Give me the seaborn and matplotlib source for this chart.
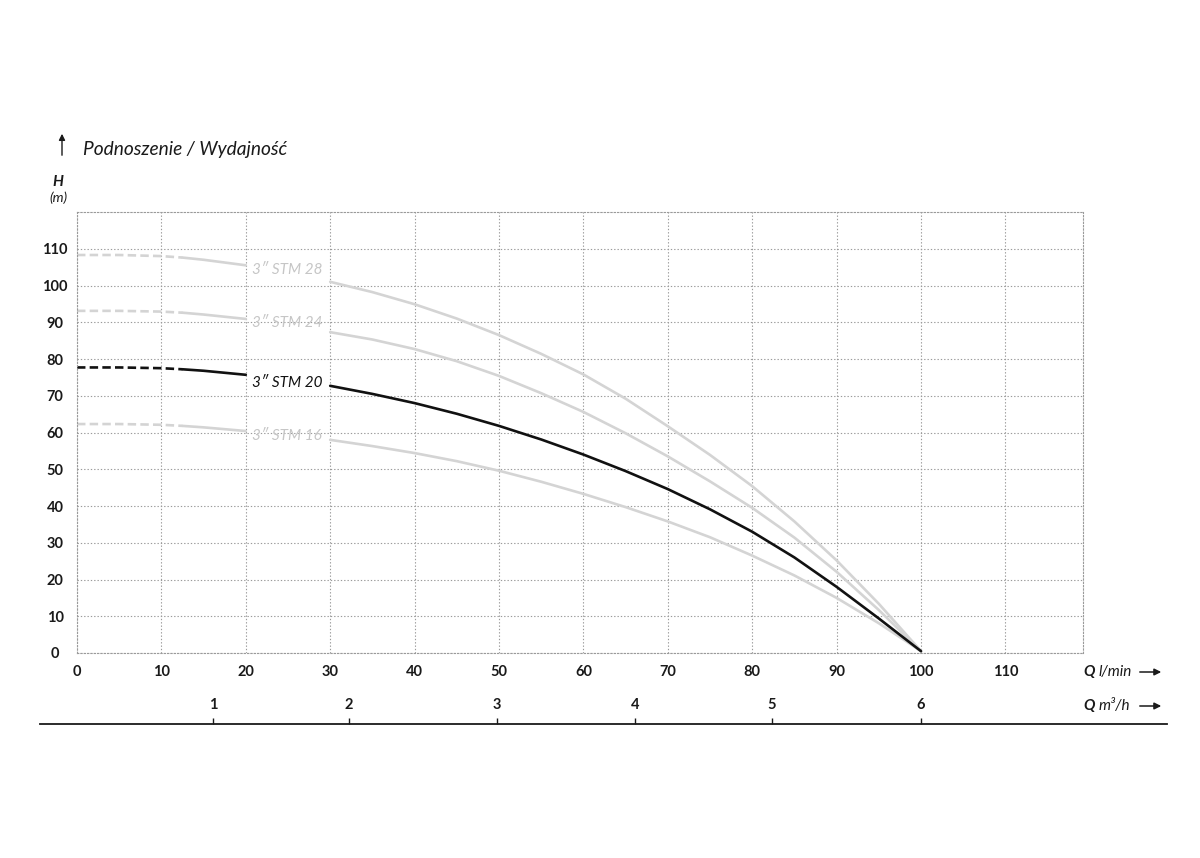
import numpy as np
import matplotlib.pyplot as plt
import pandas as pd
import seaborn as sns

# ----------------- data -----------------
q_start = [0, 5, 10, 12.5]          # dashed part (l/min)
q_front = [12.5, 15, 20]            # solid part before the label
q_main = [30, 35, 40, 45, 50, 55, 60, 65, 70, 75, 80, 85, 90, 95, 100]

stm28 = [108.3, 108.3, 108.0, 107.6, 107.0, 105.5,
         101.0, 98.2, 94.9, 91.0, 86.5, 81.4, 75.8, 69.2, 61.7, 53.9, 45.4, 35.8, 25.2, 13.4, 0.5]
stm24 = [93.1, 93.1, 92.9, 92.6, 92.1, 90.9,
         87.3, 85.3, 82.7, 79.4, 75.4, 70.7, 65.6, 59.8, 53.5, 46.7, 39.5, 31.4, 22.1, 11.7, 0.5]
stm20 = [77.7, 77.7, 77.5, 77.2, 76.8, 75.7,
         72.7, 70.5, 68.0, 65.1, 61.8, 58.1, 54.0, 49.5, 44.6, 39.1, 33.0, 26.0, 18.0, 9.4, 0.5]
stm16 = [62.3, 62.3, 62.1, 61.8, 61.4, 60.4,
         58.0, 56.3, 54.4, 52.2, 49.6, 46.6, 43.3, 39.7, 35.8, 31.5, 26.5, 21.1, 15.0, 8.1, 0.5]

pump_names = ['3\u2033 STM 28', '3\u2033 STM 24', '3\u2033 STM 20', '3\u2033 STM 16']
pump_curves = [stm28, stm24, stm20, stm16]
pump_colors = ['#d4d4d4', '#d4d4d4', '#111111', '#d4d4d4']
label_colors = ['#c6c6c6', '#c6c6c6', '#111111', '#c6c6c6']
label_q = 24.9
label_h = [104.3, 89.8, 73.6, 59.0]

x_ticks = list(range(0, 120, 10))
y_ticks = list(range(0, 120, 10))
m3h_labels = ['1', '2', '3', '4', '5', '6']
m3h_pos = [16.1, 32.2, 49.8, 66.1, 82.3, 100]   # where they sit on the l/min scale

# ----------------- style -----------------
sns.set_theme(style='white')
plt.rcParams['font.family'] = ['Lato', 'DejaVu Sans']

W, H = 1200, 858
fig = plt.figure(figsize=(W / 100, H / 100), dpi=100)


def fx(x):
    return x / W


def fy(y):
    return 1 - y / H


# main axes: grid box from px 77..1083 (x) and 212..653 (y)
ax = fig.add_axes([fx(77), fy(653), (1083 - 77) / W, (653 - 212) / H])
ax.set_xlim(0, (1083 - 77) / 8.44)
ax.set_ylim(0, 120)

dots = (0, (1.2, 1.8))
ax.set_xticks(x_ticks)
ax.set_yticks(y_ticks)
ax.grid(True, color='#9a9a9a', linewidth=0.8, linestyle=dots)
for s in ax.spines.values():
    s.set_visible(True)
    s.set_color('#9a9a9a')
    s.set_linewidth(0.8)
    s.set_linestyle(dots)

ax.tick_params(axis='both', length=0, labelsize=10.5)
ax.tick_params(axis='x', pad=9)
ax.tick_params(axis='y', pad=15.8)
for lab in ax.get_xticklabels() + ax.get_yticklabels():
    lab.set_fontweight('bold')
    lab.set_color('#1a1a1a')
for lab in ax.get_yticklabels():
    lab.set_horizontalalignment('center')

# pump curves (gray first, black on top)
n0 = len(q_start)
n1 = len(q_front)
for i in [0, 1, 3, 2]:
    h = pump_curves[i]
    d_start = pd.DataFrame({'Q': q_start, 'H': h[:n0]})
    d_front = pd.DataFrame({'Q': q_front, 'H': h[n0 - 1:n0 - 1 + n1]})
    d_main = pd.DataFrame({'Q': q_main, 'H': h[n0 - 1 + n1:]})
    sns.lineplot(data=d_start, x='Q', y='H', ax=ax, color=pump_colors[i],
                 linewidth=1.9, linestyle=(0, (3.2, 1.6)), sort=False)
    sns.lineplot(data=d_front, x='Q', y='H', ax=ax, color=pump_colors[i],
                 linewidth=1.9, sort=False)
    sns.lineplot(data=d_main, x='Q', y='H', ax=ax, color=pump_colors[i],
                 linewidth=1.9, sort=False)
    ax.text(label_q, label_h[i], pump_names[i], color=label_colors[i],
            fontsize=11, style='italic', ha='center', va='center')

ax.set_xlabel('')
ax.set_ylabel('')

# lower axis in m3/h (same scale as l/min)
ax2 = fig.add_axes([fx(40), fy(724), (1167 - 40) / W, 0.0005])
ax2.set_xlim((40 - 77) / 8.44, (1167 - 77) / 8.44)
ax2.set_ylim(0, 1)
ax2.set_xticks(m3h_pos)
ax2.set_xticklabels(m3h_labels)
ax2.set_yticks([])
for k in ['left', 'right', 'bottom']:
    ax2.spines[k].set_visible(False)
ax2.spines['top'].set_color('#1a1a1a')
ax2.spines['top'].set_linewidth(1.3)
ax2.xaxis.tick_top()
ax2.tick_params(axis='x', direction='out', length=4.5, width=1, color='#1a1a1a',
                labelsize=10.5, pad=3.5, bottom=False, labelbottom=False,
                top=True, labeltop=True)
for lab in ax2.get_xticklabels():
    lab.set_fontweight('bold')
    lab.set_color('#1a1a1a')
ax2.patch.set_alpha(0)

# decorations
fig.text(fx(83), fy(150), 'Podnoszenie / Wydajno\u015b\u0107', fontsize=13.8,
         style='italic', color='#1a1a1a', va='center', ha='left')
fig.add_artist(plt.matplotlib.patches.FancyArrowPatch(
    (fx(62), fy(158)), (fx(62), fy(131)), transform=fig.transFigure,
    arrowstyle='-|>', mutation_scale=9, color='#1a1a1a', linewidth=1))
fig.text(fx(58), fy(182), 'H', fontsize=11, style='italic', fontweight='bold',
         ha='center', va='center', color='#1a1a1a')
fig.text(fx(58), fy(198), '(m)', fontsize=10, style='italic',
         ha='center', va='center', color='#1a1a1a')

fig.text(fx(1083), fy(672), 'Q', fontsize=11, style='italic', fontweight='bold',
         ha='left', va='center', color='#1a1a1a')
fig.text(fx(1099), fy(672), 'l/min', fontsize=11, style='italic',
         ha='left', va='center', color='#1a1a1a')
fig.text(fx(1083), fy(706), 'Q', fontsize=11, style='italic', fontweight='bold',
         ha='left', va='center', color='#1a1a1a')
fig.text(fx(1099), fy(706), 'm\u00b3/h', fontsize=11, style='italic',
         ha='left', va='center', color='#1a1a1a')
for yy in [672, 706]:
    fig.add_artist(plt.matplotlib.patches.FancyArrowPatch(
        (fx(1137), fy(yy)), (fx(1164), fy(yy)), transform=fig.transFigure,
        arrowstyle='-|>', mutation_scale=10, color='#1a1a1a', linewidth=1.1))

fig.savefig('out.png', dpi=100, facecolor='white')
